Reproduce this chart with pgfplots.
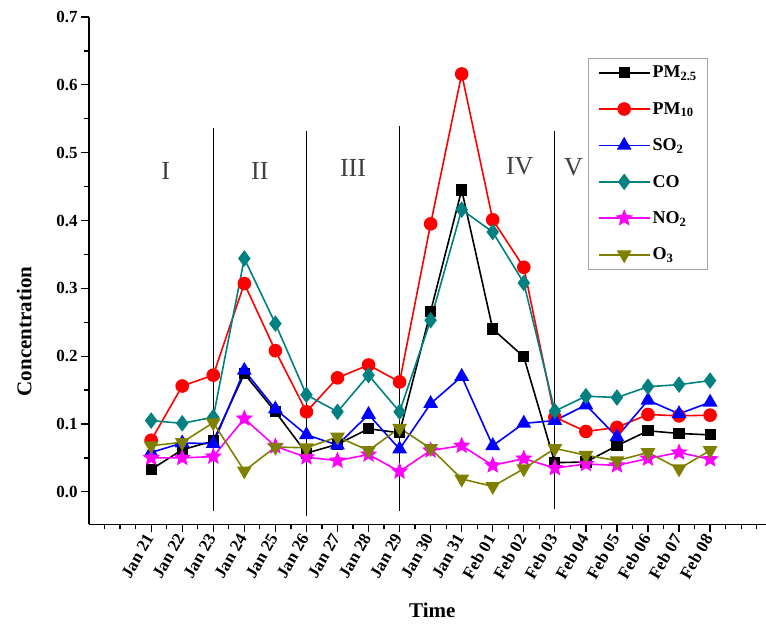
\documentclass[border=0pt]{standalone}
\usepackage{fontspec}
\setmainfont{Liberation Serif}
\usepackage{pgfplots}
\usepackage{pgfplotstable}
\pgfplotsset{compat=1.18}

\definecolor{coteal}{RGB}{0,128,128}
\definecolor{oolive}{RGB}{128,128,0}
\definecolor{nomag}{RGB}{255,0,255}

% filled five-pointed star
\pgfdeclareplotmark{fstar}{%
  \pgfpathmoveto{\pgfpointpolar{90}{\pgfplotmarksize}}%
  \pgfpathlineto{\pgfpointpolar{126}{0.45*\pgfplotmarksize}}%
  \pgfpathlineto{\pgfpointpolar{162}{\pgfplotmarksize}}%
  \pgfpathlineto{\pgfpointpolar{198}{0.45*\pgfplotmarksize}}%
  \pgfpathlineto{\pgfpointpolar{234}{\pgfplotmarksize}}%
  \pgfpathlineto{\pgfpointpolar{270}{0.45*\pgfplotmarksize}}%
  \pgfpathlineto{\pgfpointpolar{306}{\pgfplotmarksize}}%
  \pgfpathlineto{\pgfpointpolar{342}{0.45*\pgfplotmarksize}}%
  \pgfpathlineto{\pgfpointpolar{18}{\pgfplotmarksize}}%
  \pgfpathlineto{\pgfpointpolar{54}{0.45*\pgfplotmarksize}}%
  \pgfpathclose
  \pgfusepathqfillstroke}

% day index: 1 = Jan 21 ... 19 = Feb 08
\pgfplotstableread{
day  pm25   pm10   so2    co     no2    o3
1    0.033  0.076  0.058  0.105  0.050  0.068
2    0.062  0.156  0.072  0.101  0.050  0.073
3    0.075  0.172  0.071  0.110  0.052  0.102
4    0.174  0.307  0.179  0.344  0.108  0.031
5    0.118  0.208  0.122  0.248  0.067  0.066
6    0.057  0.118  0.084  0.143  0.051  0.065
7    0.070  0.168  0.069  0.118  0.046  0.081
8    0.093  0.187  0.114  0.172  0.055  0.061
9    0.087  0.162  0.063  0.118  0.030  0.094
10   0.266  0.395  0.130  0.253  0.061  0.064
11   0.445  0.616  0.170  0.416  0.068  0.019
12   0.240  0.401  0.068  0.383  0.039  0.008
13   0.199  0.331  0.101  0.308  0.049  0.034
14   0.043  0.110  0.105  0.119  0.035  0.064
15   0.044  0.089  0.128  0.141  0.041  0.054
16   0.068  0.095  0.081  0.139  0.039  0.046
17   0.090  0.114  0.135  0.155  0.049  0.058
18   0.086  0.112  0.115  0.158  0.058  0.034
19   0.084  0.113  0.132  0.164  0.048  0.061
}\conc

\begin{document}
\begin{tikzpicture}
\begin{axis}[
    scale only axis,
    width=676.5pt, height=507.1pt,
    xmin=-1, xmax=20.8,
    ymin=-0.048, ymax=0.7,
    clip=false,
    axis x line=bottom, axis y line=left,
    axis line style={-, line width=1.6pt, black},
    tick align=outside,
    major tick length=8pt, minor tick length=5pt,
    every tick/.style={line width=1.3pt, black},
    xtick={1,...,19},
    xticklabels={Jan 21,Jan 22,Jan 23,Jan 24,Jan 25,Jan 26,Jan 27,Jan 28,Jan 29,Jan 30,Jan 31,Feb 01,Feb 02,Feb 03,Feb 04,Feb 05,Feb 06,Feb 07,Feb 08},
    minor xtick={-0.5,0,0.5,1.5,2.5,...,19.5,20,20.5},
    ytick={0,0.1,...,0.7},
    minor ytick={0.05,0.15,...,0.65},
    ticklabel style={font=\fontsize{17}{20}\selectfont\bfseries},
    xticklabel style={rotate=60, anchor=east, font=\fontsize{17}{20}\selectfont\bfseries},
    yticklabel style={/pgf/number format/.cd, fixed, fixed zerofill, precision=1, assume math mode=true},
    xlabel={Time}, ylabel={Concentration},
    label style={font=\fontsize{21}{24}\selectfont\bfseries},
    xlabel style={at={(rel axis cs:0.507,-0.170)}, anchor=center},
    ylabel style={at={(rel axis cs:-0.096,0.38)}, anchor=center},
    legend style={at={(rel axis cs:0.7376,0.92)}, anchor=north west,
        draw=gray!70, line width=1pt,
        font=\fontsize{18}{21}\selectfont\bfseries,
        row sep=19pt, inner xsep=9pt, inner ysep=6pt,
        cells={anchor=west}},
    legend image code/.code={\draw[mark repeat=2,mark phase=2,#1] plot coordinates {(0pt,0pt)(25.5pt,0pt)(51pt,0pt)};},
]
% period separators
\addplot[black, line width=1.2pt, no marks, forget plot] coordinates {(3,-0.028) (3,0.537)};
\addplot[black, line width=1.2pt, no marks, forget plot] coordinates {(6,-0.035) (6,0.532)};
\addplot[black, line width=1.2pt, no marks, forget plot] coordinates {(9,-0.028) (9,0.540)};
\addplot[black, line width=1.2pt, no marks, forget plot] coordinates {(14,-0.026) (14,0.532)};

\addplot[black, line width=1.6pt, mark=square*, mark size=4.8pt, mark options={solid, fill=black}] table[x=day, y=pm25] {\conc};
\addlegendentry{PM\textsubscript{2.5}}
\addplot[red, line width=1.6pt, mark=*, mark size=6pt, mark options={solid, fill=red}] table[x=day, y=pm10] {\conc};
\addlegendentry{PM\textsubscript{10}}
\addplot[blue, line width=1.6pt, mark=triangle*, mark size=7pt, mark options={solid, fill=blue}] table[x=day, y=so2] {\conc};
\addlegendentry{SO\textsubscript{2}}
\addplot[coteal, line width=1.6pt, mark=diamond*, mark size=7pt, mark options={solid, fill=coteal}] table[x=day, y=co] {\conc};
\addlegendentry{CO}
\addplot[nomag, line width=1.6pt, mark=fstar, mark size=7pt, mark options={solid, fill=nomag}] table[x=day, y=no2] {\conc};
\addlegendentry{NO\textsubscript{2}}
\addplot[oolive, line width=1.6pt, mark=triangle*, mark size=7pt, mark options={solid, fill=oolive, rotate=180}] table[x=day, y=o3] {\conc};
\addlegendentry{O\textsubscript{3}}

\node[font=\fontsize{26}{30}\selectfont, text=black!75] at (axis cs:1.47,0.473) {I};
\node[font=\fontsize{26}{30}\selectfont, text=black!75] at (axis cs:4.5,0.473) {II};
\node[font=\fontsize{26}{30}\selectfont, text=black!75] at (axis cs:7.5,0.478) {III};
\node[font=\fontsize{26}{30}\selectfont, text=black!75] at (axis cs:12.87,0.48) {IV};
\node[font=\fontsize{26}{30}\selectfont, text=black!75] at (axis cs:14.6,0.478) {V};

\coordinate (bbl) at (axis cs:-3.868,-0.196);
\coordinate (btr) at (axis cs:20.8,0.725);
\end{axis}
\pgfresetboundingbox
\path[use as bounding box] (bbl) rectangle (btr);
\end{tikzpicture}
\end{document}
